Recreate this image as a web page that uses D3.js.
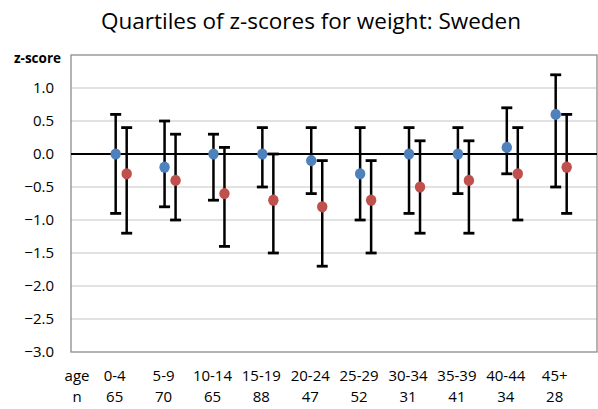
<!DOCTYPE html>
<html><head><meta charset="utf-8">
<script src="https://cdn.jsdelivr.net/npm/d3@7"></script>
<style>body{margin:0;background:#fff;} svg{display:block;}</style>
</head><body>
<svg id="c" width="598" height="409"></svg>
<script>
const ages = ["0-4","5-9","10-14","15-19","20-24","25-29","30-34","35-39","40-44","45+"];
const counts = [65,70,65,88,47,52,31,41,34,28];
// series A (blue): median with lower/upper quartile
const blueMid = [0.0,-0.2,0.0,0.0,-0.1,-0.3,0.0,0.0,0.1,0.6];
const blueLow = [-0.9,-0.8,-0.7,-0.5,-0.6,-1.0,-0.9,-0.6,-0.3,-0.5];
const blueHigh = [0.6,0.5,0.3,0.4,0.4,0.4,0.4,0.4,0.7,1.2];
// series B (red)
const redMid = [-0.3,-0.4,-0.6,-0.7,-0.8,-0.7,-0.5,-0.4,-0.3,-0.2];
const redLow = [-1.2,-1.0,-1.4,-1.5,-1.7,-1.5,-1.2,-1.2,-1.0,-0.9];
const redHigh = [0.4,0.3,0.1,0.0,-0.1,-0.1,0.2,0.2,0.4,0.6];
const yTicks = [-3.0,-2.5,-2.0,-1.5,-1.0,-0.5,0.0,0.5,1.0];

const svg = d3.select("#c");
const L=71, R=597, T=55, B=352;
const FONT = "'Open Sans', sans-serif";
const x = d3.scaleLinear().domain([0.086, 10.845]).range([L, R]);
const y = d3.scaleLinear().domain([-3, 1.5]).range([B, T]);
const redOff = 0.225;

// title
svg.append("text").attr("x", 311).attr("y", 28.5).attr("text-anchor","middle")
  .style("font-family", FONT).style("font-size","22.5px").attr("fill","#000")
  .text("Quartiles of z-scores for weight: Sweden");

// gridlines
svg.append("g").selectAll("line").data(yTicks.filter(d=>d!==0 && d!==-3))
  .join("line").attr("x1",L).attr("x2",R).attr("y1",d=>y(d)).attr("y2",d=>y(d))
  .attr("stroke","#d9d9d9").attr("stroke-width",1.3);

// border
svg.append("rect").attr("x",L).attr("y",T).attr("width",R-L).attr("height",B-T)
  .attr("fill","none").attr("stroke","#8c8c8c").attr("stroke-width",1.3);

// zero line
svg.append("line").attr("x1",L).attr("x2",R).attr("y1",y(0)).attr("y2",y(0))
  .attr("stroke","#000").attr("stroke-width",2);

// y axis labels
const yAxis = d3.axisLeft(y).tickValues(yTicks).tickFormat(d3.format(".1f")).tickSize(0).tickPadding(17);
const ga = svg.append("g").attr("transform",`translate(${L},0)`).call(yAxis);
ga.select(".domain").remove();
ga.selectAll("text").style("font-family",FONT).style("font-size","15px").attr("fill","#000");

svg.append("text").attr("x",37.5).attr("y",62.5).attr("text-anchor","middle")
  .style("font-family",FONT).style("font-size","13.5px").style("font-weight","bold").text("z-score");

// x labels
const xl = svg.append("g").style("font-family",FONT).style("font-size","15px");
xl.append("text").attr("x",77).attr("y",381).attr("text-anchor","middle").text("age");
xl.append("text").attr("x",77).attr("y",402).attr("text-anchor","middle").text("n");
xl.selectAll("text.a").data(ages).join("text").attr("class","a")
  .attr("x",(d,i)=>x(i+1)-1).attr("y",381).attr("text-anchor","middle").text(d=>d);
xl.selectAll("text.n").data(counts).join("text").attr("class","n")
  .attr("x",(d,i)=>x(i+1)-1).attr("y",402).attr("text-anchor","middle").text(d=>d);

function series(mid, low, high, off, color){
  const g = svg.append("g");
  const data = mid.map((m,i)=>({xi:i+1+off, m, lo:low[i], hi:high[i]}));
  g.selectAll("line.v").data(data).join("line").attr("class","v")
    .attr("x1",d=>x(d.xi)).attr("x2",d=>x(d.xi)).attr("y1",d=>y(d.hi)).attr("y2",d=>y(d.lo))
    .attr("stroke","#000").attr("stroke-width",2.5);
  ["hi","lo"].forEach(k=>{
    g.selectAll("line."+k).data(data).join("line").attr("class",k)
      .attr("x1",d=>x(d.xi)-5.5).attr("x2",d=>x(d.xi)+5.5).attr("y1",d=>y(d[k])).attr("y2",d=>y(d[k]))
      .attr("stroke","#000").attr("stroke-width",2.8);
  });
  g.selectAll("ellipse").data(data).join("ellipse")
    .attr("cx",d=>x(d.xi)).attr("cy",d=>y(d.m)).attr("rx",5.2).attr("ry",5.6).attr("fill",color);
}
series(blueMid, blueLow, blueHigh, 0, "#4f81bd");
series(redMid, redLow, redHigh, redOff, "#c0504d");
</script>
</body></html>
